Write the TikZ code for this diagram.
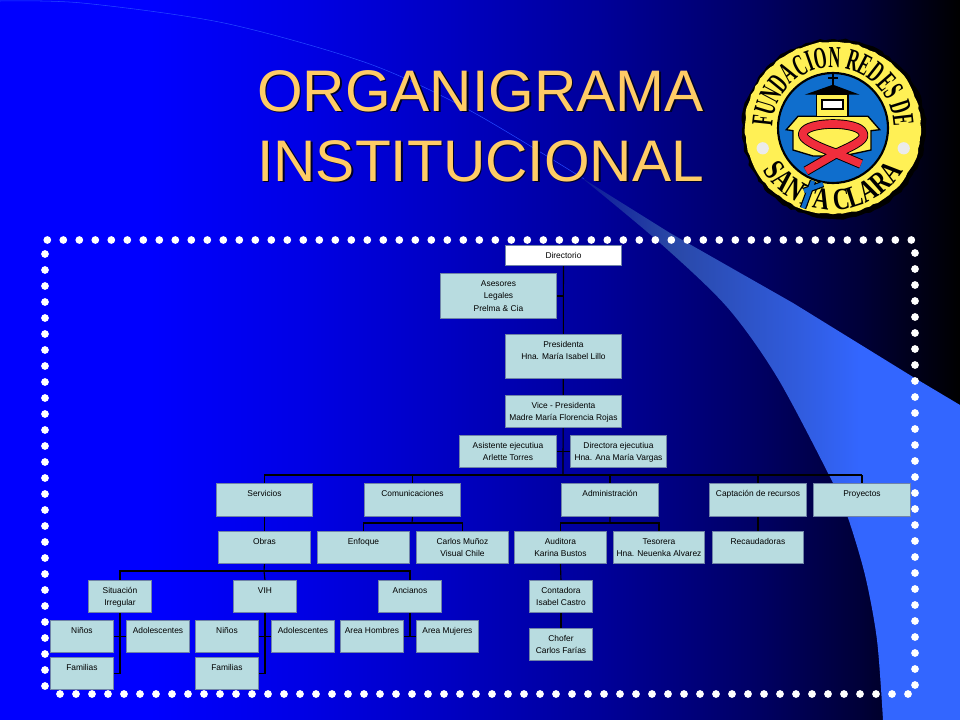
\documentclass[tikz,border=0pt]{standalone}
\usepackage{fontspec}
\setmainfont{Liberation Sans}
\newfontfamily\logofontA[FakeStretch=0.54]{Liberation Serif Bold}
\newfontfamily\logofontB[FakeStretch=0.76]{Liberation Serif Bold}
\usetikzlibrary{backgrounds,decorations.text,decorations.pathmorphing}
\definecolor{boxfill}{RGB}{184,220,224}
\definecolor{boxline}{RGB}{112,132,168}
\definecolor{titlecol}{RGB}{255,204,102}
\definecolor{swoop}{RGB}{51,102,255}
\definecolor{logoyellow}{RGB}{255,240,85}
\definecolor{logoblue}{RGB}{15,110,205}
\definecolor{logored}{RGB}{240,45,60}
\pgfdeclarehorizontalshading{slidebg}{100bp}{
  rgb(0bp)=(0,0,1); rgb(25bp)=(0,0,1); rgb(32.8bp)=(0,0,1); rgb(40.6bp)=(0,0,.90);
  rgb(48.4bp)=(0,0,.76); rgb(56.25bp)=(0,0,.60); rgb(64.1bp)=(0,0,.40);
  rgb(69.8bp)=(0,0,.22); rgb(75bp)=(0,0,0); rgb(100bp)=(0,0,0)}
\pgfdeclarehorizontalshading{swoosh}{100bp}{
  rgb(0bp)=(.05,.1,.6); rgb(25bp)=(.05,.1,.6); rgb(36.6bp)=(.16,.28,.65);
  rgb(53.8bp)=(.19,.36,.87); rgb(61.8bp)=(.2,.4,1); rgb(100bp)=(.2,.4,1)}
\tikzset{
  orgbox/.style={draw=boxline,line width=.7pt,fill=boxfill,inner sep=0pt,anchor=north west,text=black},
  whitebox/.style={orgbox,fill=white},
  link/.style={draw=black,line width=.85pt},
  dotmark/.style={fill=white,draw=none},
  slidetitle/.style={align=center,font=\fontsize{44}{52.5}\selectfont,text=titlecol,inner sep=0pt},
  titleshadow/.style={slidetitle,text=black!85!blue},
  logoline/.style={draw=black,line width=1pt},
  ribbonedge/.style={draw=black,line width=7.2pt,line join=round},
  ribbonfill/.style={draw=logored,line width=5.8pt,line join=round}
}
% box: style, name, x1, y1, x2, y2, text (px)
\newcommand{\orgbx}[7]{%
  \pgfmathsetmacro{\bw}{(#5-#3)*0.75}\pgfmathsetmacro{\bh}{(#6-#4)*0.75}%
  \node[#1] (#2) at (#3,#4) {\parbox[t][\bh pt][t]{\bw pt}{\centering\fontsize{6.3}{9.4}\selectfont\rule{0pt}{9.6pt}#7}};}
\begin{document}
\begin{tikzpicture}[x=.75pt,y=-.75pt]
\useasboundingbox (0,0) rectangle (960,720);
% boxes
\orgbx{whitebox}{dir}{505}{245}{621}{265}{Directorio}
\orgbx{orgbox}{ases}{440}{273}{556}{318}{Asesores\\Legales\\Prelma \& Cia}
\orgbx{orgbox}{pres}{505}{334}{621}{378}{Presidenta\\Hna. María Isabel Lillo}
\orgbx{orgbox}{vice}{505}{395}{621}{427}{Vice - Presidenta\\Madre María Florencia Rojas}
\orgbx{orgbox}{asis}{459}{435}{556}{467}{Asistente ejecutiua\\Arlette Torres}
\orgbx{orgbox}{dire}{570}{435}{666}{467}{Directora ejecutiua\\Hna. Ana María Vargas}
\orgbx{orgbox}{serv}{216}{483}{312}{516}{Servicios}
\orgbx{orgbox}{comu}{364}{483}{460}{516}{Comunicaciones}
\orgbx{orgbox}{admi}{561}{483}{658}{516}{Administración}
\orgbx{orgbox}{capt}{709}{483}{806}{516}{Captación de recursos}
\orgbx{orgbox}{proy}{813}{483}{910}{516}{Proyectos}
\orgbx{orgbox}{obra}{218}{531}{310}{563}{Obras}
\orgbx{orgbox}{enfo}{317}{531}{409}{563}{Enfoque}
\orgbx{orgbox}{carl}{416}{531}{508}{563}{Carlos Muñoz\\Visual Chile}
\orgbx{orgbox}{audi}{514}{531}{606}{563}{Auditora\\Karina Bustos}
\orgbx{orgbox}{teso}{613}{531}{704}{563}{Tesorera\\Hna. Neuenka Alvarez}
\orgbx{orgbox}{reca}{712}{531}{803}{563}{Recaudadoras}
\orgbx{orgbox}{situ}{88}{580}{151}{612}{Situación\\Irregular}
\orgbx{orgbox}{vih}{233}{580}{296}{612}{VIH}
\orgbx{orgbox}{anci}{378}{580}{441}{612}{Ancianos}
\orgbx{orgbox}{cont}{529}{580}{592}{612}{Contadora\\Isabel Castro}
\orgbx{orgbox}{nina}{50}{620}{113}{652}{Niños}
\orgbx{orgbox}{adoa}{126}{620}{189}{652}{Adolescentes}
\orgbx{orgbox}{fama}{50}{657}{113}{689}{Familias}
\orgbx{orgbox}{ninb}{195}{620}{258}{652}{Niños}
\orgbx{orgbox}{adob}{271}{620}{334}{652}{Adolescentes}
\orgbx{orgbox}{famb}{195}{657}{258}{689}{Familias}
\orgbx{orgbox}{homb}{340}{620}{403}{652}{Area Hombres}
\orgbx{orgbox}{muje}{416}{620}{478}{652}{Area Mujeres}
\orgbx{orgbox}{chof}{529}{628}{592}{660}{Chofer\\Carlos Farías}
% hubs
\coordinate (busa) at (563,475);
\coordinate (busb) at (412,523);
\coordinate (busc) at (610,523);
\coordinate (busd) at (264,571);
\begin{pgfonlayer}{background}
  \shade[shading=slidebg] (0,0) rectangle (960,720);
  \draw[swoop!70!blue,line width=.4pt] plot[smooth] coordinates {(0,1) (82,3) (224,23) (367,63) (469,110) (584,179)};
  \begin{scope}
    \clip (0,0) rectangle (960,720);
    \shade[shading=swoosh] (582,178) -- (670,233) -- (793,303) -- (913,377) -- (960,405) -- (960,720) -- (883,720)
      -- plot[smooth] coordinates {(883,720) (877,640) (865,575) (847,515) (830,477) (777,377) (727,307) (660,243) (582,178)} -- cycle;
  \end{scope}
  % connectors
  \draw[link] (dir.south) -- (busa);
  \draw[link] (busa -| serv.north) -- (busa -| proy.north);
  \foreach \n in {serv,comu,admi,capt,proy} \draw[link] (busa -| \n.north) -- (\n.north);
  \draw[link] (ases.east) -- (ases.east -| dir.south);
  \draw[link] (asis.east) -- (dire.west);
  \draw[link] (serv.south) -- (obra.north);
  \draw[link] (comu.south) -- (busb);
  \draw[link] (enfo.north) |- (busb) -| (carl.north);
  \draw[link] (admi.south) -- (busc);
  \draw[link] (audi.north) |- (busc) -| (teso.north);
  \draw[link] (capt.south) -- (reca.north);
  \draw[link] (obra.south) -- (busd);
  \draw[link] (situ.north) |- (busd) -| (anci.north);
  \draw[link] (busd) -- (vih.north);
  \draw[link] (situ.south) |- (fama.east);
  \draw[link] (nina.east) -- (adoa.west);
  \draw[link] (vih.south) |- (famb.east);
  \draw[link] (ninb.east) -- (adob.west);
  \draw[link] (anci.south) -- (anci.south |- homb.east);
  \draw[link] (homb.east) -- (muje.west);
  \draw[link] (audi.south) -- (cont.north);
  \draw[link] (cont.south) -- (chof.north);
\end{pgfonlayer}
% dotted frame
\foreach \k in {0,...,54} \fill[dotmark] ({47.3+16*\k},240) circle (2.9pt);
\foreach \k in {0,...,53} \fill[dotmark] ({60+16*\k},694) circle (2.9pt);
\foreach \k in {0,...,27} {\fill[dotmark] (45,{254+16*\k}) circle (2.9pt); \fill[dotmark] (915,{253+16*\k}) circle (2.9pt);}
% title
\node[titleshadow] at (482,127.5) {ORGANIGRAMA\\INSTITUCIONAL};
\node[slidetitle] (title) at (480.5,126) {ORGANIGRAMA\\INSTITUCIONAL};
% logo
\begin{scope}[shift={(833,128)},x=.75pt,y=.75pt]
  \fill[black,decorate,decoration={random steps,segment length=3.5pt,amplitude=.9pt}] (1,-1) ellipse [x radius=92,y radius=90];
  \fill[logoyellow,decorate,decoration={random steps,segment length=3.5pt,amplitude=.6pt}] (0,0) ellipse [x radius=88,y radius=86];
  \fill[logoblue,draw=black,line width=1.6pt] (0,0) circle (55);
  \begin{scope}
    \clip (0,0) circle (54);
    \path[fill=logoyellow,logoline] (-46.7,-1.7) -- (-35,11.7) -- (35,11.7) -- (46.7,-1.7) -- (38,-2.7) -- (38,-22) -- (10,-28) -- (-20,-28) -- (-40,-22) -- (-40,-2.7) -- cycle;
  \end{scope}
  \path[fill=logoyellow,logoline] (-16.7,11.7) rectangle (15,33.3);
  \path[fill=white,draw=black,line width=1.6pt] (-11,19.3) rectangle (10,28.3);
  \fill[black] (-28.3,33.3) -- (0,43.3) -- (26.7,33.3) -- cycle;
  \draw[black,line width=1.4pt] (0,43) -- (0,54) (-5,50) -- (5,50);
  % ribbon
  \def\ribpath{(-27,-43) -- (4,-25) .. controls (24,-16) and (33,-11) .. (30,-5) .. controls (26,7) and (-26,7) .. (-30,-5) .. controls (-33,-11) and (-15,-19) .. (2,-25) -- (28,-36)}
  \draw[ribbonedge] \ribpath;
  \draw[ribbonfill] \ribpath;
  % lettering
  \path[decorate,decoration={text along path,text align=center,text={|\logofontA\fontsize{23}{23}\selectfont|FUNDACION REDES DE}}]
    (185:60.7) arc [start angle=185,end angle=-5,radius=60.7];
  \path[decorate,decoration={text along path,text align=center,text={|\logofontB\fontsize{23}{23}\selectfont|SANTA CLARA}}]
    (200:82) arc [start angle=200,end angle=340,radius=82];
  % dots
  \fill[white!92!black] (-70.3,-20.3) circle (4.6pt);
  \fill[white!92!black] (70.7,-20.3) circle (4.6pt);
  % cross
  \draw[black,line width=5pt] (-20,-53) -- (-30,-80) (-29,-63) -- (-10,-56);
  \draw[logoblue,line width=3.2pt] (-20,-53) -- (-30,-80) (-29,-63) -- (-10,-56);
\end{scope}
\end{tikzpicture}
\end{document}
